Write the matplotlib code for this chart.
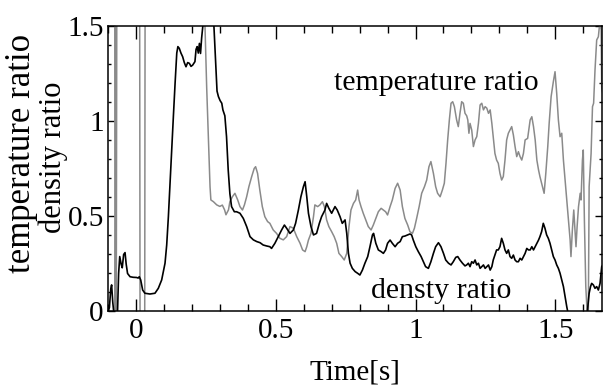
import matplotlib
matplotlib.use("Agg")
import matplotlib.pyplot as plt
from matplotlib.ticker import MultipleLocator

plt.rcParams['font.family'] = ['Liberation Serif', 'DejaVu Serif']

# density ratio (black)
t_dens = [-0.100, -0.095, -0.090, -0.087, -0.083, -0.079, -0.066, -0.062, -0.058, -0.053,
          -0.049, -0.044, -0.039, -0.035, -0.030, -0.021, -0.010, 0.002, 0.008, 0.012,
          0.017, 0.024, 0.032, 0.050, 0.068, 0.080, 0.092, 0.104, 0.110, 0.116,
          0.122, 0.128, 0.134, 0.140, 0.146, 0.150, 0.155, 0.161, 0.167, 0.173,
          0.179, 0.185, 0.191, 0.197, 0.203, 0.211, 0.215, 0.219, 0.223, 0.227,
          0.231, 0.235, 0.239, 0.245, 0.270, 0.279, 0.286, 0.290, 0.295, 0.301,
          0.307, 0.311, 0.318, 0.324, 0.330, 0.336, 0.342, 0.352, 0.360, 0.372,
          0.384, 0.396, 0.408, 0.420, 0.432, 0.444, 0.455, 0.467, 0.479, 0.485,
          0.497, 0.509, 0.521, 0.531, 0.539, 0.551, 0.563, 0.571, 0.581, 0.590,
          0.599, 0.605, 0.611, 0.617, 0.626, 0.635, 0.646, 0.656, 0.664, 0.676,
          0.682, 0.690, 0.700, 0.712, 0.720, 0.730, 0.738, 0.748, 0.754, 0.760,
          0.766, 0.774, 0.784, 0.793, 0.801, 0.810, 0.819, 0.829, 0.837, 0.846,
          0.850, 0.858, 0.867, 0.877, 0.885, 0.893, 0.900, 0.909, 0.917, 0.927,
          0.936, 0.945, 0.953, 0.962, 0.972, 0.980, 0.986, 0.992, 1.001, 1.010,
          1.020, 1.028, 1.036, 1.046, 1.055, 1.064, 1.072, 1.082, 1.091, 1.100,
          1.108, 1.118, 1.127, 1.135, 1.144, 1.151, 1.159, 1.168, 1.177, 1.183,
          1.189, 1.195, 1.201, 1.207, 1.213, 1.219, 1.225, 1.231, 1.237, 1.243,
          1.249, 1.255, 1.261, 1.267, 1.273, 1.278, 1.284, 1.290, 1.296, 1.302,
          1.308, 1.314, 1.320, 1.326, 1.332, 1.338, 1.344, 1.350, 1.356, 1.362,
          1.368, 1.374, 1.380, 1.386, 1.392, 1.398, 1.404, 1.410, 1.416, 1.422,
          1.428, 1.434, 1.440, 1.445, 1.451, 1.457, 1.463, 1.469, 1.475, 1.481,
          1.487, 1.493, 1.499, 1.505, 1.511, 1.517, 1.523, 1.529, 1.535, 1.541,
          1.547, 1.580, 1.614, 1.621, 1.626, 1.630, 1.636, 1.642, 1.648, 1.654,
          1.660, 1.666, 1.680]
dens = [0.00, 0.02, 0.12, 0.14, 0.05, -0.01, -0.01, 0.20, 0.289, 0.25,
        0.23, 0.30, 0.31, 0.25, 0.20, 0.183, 0.180, 0.179, 0.176, 0.183,
        0.166, 0.113, 0.096, 0.092, 0.096, 0.122, 0.166, 0.254, 0.350, 0.499,
        0.680, 0.850, 1.030, 1.201, 1.360, 1.394, 1.385, 1.360, 1.341, 1.310,
        1.288, 1.310, 1.306, 1.290, 1.297, 1.315, 1.380, 1.394, 1.360, 1.411,
        1.358, 1.440, 1.499, 1.600, 1.600, 1.499, 1.288, 1.160, 1.131, 1.110,
        1.096, 1.061, 1.030, 0.920, 0.745, 0.620, 0.552, 0.525, 0.525, 0.517,
        0.490, 0.447, 0.394, 0.377, 0.368, 0.362, 0.350, 0.345, 0.341, 0.332,
        0.359, 0.394, 0.429, 0.455, 0.438, 0.411, 0.429, 0.464, 0.534, 0.604,
        0.657, 0.683, 0.604, 0.517, 0.447, 0.403, 0.411, 0.464, 0.499, 0.534,
        0.569, 0.543, 0.517, 0.552, 0.534, 0.499, 0.464, 0.482, 0.411, 0.306,
        0.254, 0.227, 0.210, 0.201, 0.192, 0.218, 0.254, 0.289, 0.341, 0.403,
        0.411, 0.359, 0.324, 0.315, 0.306, 0.324, 0.359, 0.376, 0.359, 0.341,
        0.359, 0.368, 0.394, 0.397, 0.403, 0.408, 0.403, 0.376, 0.341, 0.315,
        0.289, 0.262, 0.236, 0.227, 0.262, 0.306, 0.341, 0.362, 0.341, 0.306,
        0.271, 0.254, 0.245, 0.262, 0.285, 0.289, 0.271, 0.254, 0.240, 0.245,
        0.254, 0.236, 0.262, 0.254, 0.271, 0.245, 0.254, 0.227, 0.236, 0.245,
        0.227, 0.236, 0.245, 0.218, 0.236, 0.271, 0.297, 0.324, 0.324, 0.341,
        0.385, 0.359, 0.324, 0.306, 0.324, 0.289, 0.280, 0.297, 0.271, 0.262,
        0.262, 0.280, 0.271, 0.289, 0.306, 0.332, 0.324, 0.324, 0.341, 0.324,
        0.341, 0.359, 0.376, 0.394, 0.420, 0.464, 0.438, 0.403, 0.385, 0.359,
        0.324, 0.289, 0.271, 0.245, 0.227, 0.201, 0.166, 0.131, 0.078, 0.025,
        -0.020, -0.100, -0.010, 0.096, 0.131, 0.148, 0.140, 0.122, 0.131, 0.113,
        0.148, 0.236, 0.270]

# temperature ratio (gray); values beyond the axes are off-scale excursions
t_temp = [-0.100, -0.076, -0.074, -0.071, -0.068, -0.065, 0.013, 0.015, 0.031, 0.033,
          0.240, 0.247, 0.253, 0.259, 0.265, 0.268, 0.277, 0.289, 0.300, 0.309,
          0.317, 0.322, 0.331, 0.336, 0.345, 0.354, 0.364, 0.372, 0.381, 0.388,
          0.396, 0.404, 0.414, 0.423, 0.428, 0.435, 0.443, 0.452, 0.461, 0.471,
          0.479, 0.491, 0.503, 0.515, 0.527, 0.539, 0.551, 0.563, 0.575, 0.587,
          0.596, 0.605, 0.611, 0.617, 0.626, 0.635, 0.640, 0.650, 0.658, 0.667,
          0.674, 0.682, 0.690, 0.700, 0.709, 0.718, 0.726, 0.736, 0.745, 0.754,
          0.762, 0.769, 0.778, 0.786, 0.793, 0.798, 0.805, 0.813, 0.822, 0.831,
          0.841, 0.849, 0.858, 0.867, 0.877, 0.885, 0.893, 0.900, 0.909, 0.917,
          0.927, 0.936, 0.945, 0.953, 0.962, 0.972, 0.980, 0.989, 0.996, 1.004,
          1.013, 1.022, 1.032, 1.040, 1.048, 1.055, 1.064, 1.072, 1.079, 1.088,
          1.096, 1.103, 1.109, 1.115, 1.121, 1.127, 1.133, 1.139, 1.147, 1.153,
          1.159, 1.165, 1.171, 1.177, 1.183, 1.187, 1.191, 1.195, 1.201, 1.207,
          1.213, 1.219, 1.225, 1.231, 1.237, 1.243, 1.249, 1.255, 1.261, 1.267,
          1.273, 1.278, 1.284, 1.290, 1.296, 1.302, 1.308, 1.314, 1.320, 1.326,
          1.332, 1.338, 1.344, 1.350, 1.356, 1.362, 1.368, 1.374, 1.380, 1.386,
          1.392, 1.401, 1.410, 1.416, 1.422, 1.428, 1.434, 1.440, 1.445, 1.454,
          1.460, 1.466, 1.473, 1.478, 1.485, 1.493, 1.499, 1.505, 1.511, 1.517,
          1.523, 1.529, 1.535, 1.541, 1.547, 1.553, 1.556, 1.561, 1.566, 1.571,
          1.574, 1.578, 1.583, 1.589, 1.592, 1.597, 1.600, 1.604, 1.609, 1.614,
          1.618, 1.621, 1.628, 1.633, 1.637, 1.642, 1.648, 1.654, 1.659, 1.664,
          1.666, 1.680]
temp = [-0.30, -0.30, 2.00, -0.50, 2.00, 2.00, 2.00, -0.50, -0.50, 2.00,
        2.00, 1.50, 1.180, 0.920, 0.657, 0.587, 0.578, 0.561, 0.553, 0.560,
        0.535, 0.509, 0.535, 0.578, 0.604, 0.622, 0.587, 0.552, 0.534, 0.561,
        0.604, 0.657, 0.710, 0.753, 0.762, 0.727, 0.640, 0.552, 0.499, 0.473,
        0.464, 0.429, 0.411, 0.385, 0.377, 0.394, 0.447, 0.438, 0.394, 0.359,
        0.324, 0.315, 0.341, 0.376, 0.411, 0.499, 0.561, 0.552, 0.561, 0.578,
        0.552, 0.482, 0.447, 0.420, 0.394, 0.359, 0.306, 0.289, 0.271, 0.306,
        0.447, 0.534, 0.569, 0.587, 0.639, 0.587, 0.552, 0.517, 0.482, 0.447,
        0.429, 0.455, 0.490, 0.525, 0.543, 0.534, 0.525, 0.508, 0.552, 0.587,
        0.648, 0.675, 0.639, 0.552, 0.490, 0.455, 0.420, 0.411, 0.438, 0.490,
        0.552, 0.622, 0.657, 0.692, 0.762, 0.789, 0.727, 0.657, 0.622, 0.604,
        0.639, 0.675, 0.780, 0.903, 1.008, 1.096, 1.104, 1.078, 1.008, 0.973,
        1.043, 1.104, 1.096, 1.043, 1.030, 1.008, 0.938, 0.990, 0.955, 0.868,
        0.903, 0.920, 0.990, 1.087, 1.096, 1.061, 1.078, 1.070, 1.043, 1.061,
        0.990, 0.920, 0.832, 0.797, 0.780, 0.727, 0.692, 0.710, 0.797, 0.903,
        0.938, 0.955, 0.973, 0.929, 0.868, 0.815, 0.841, 0.815, 0.797, 0.832,
        0.903, 0.911, 1.008, 1.025, 0.973, 0.903, 0.797, 0.745, 0.710, 0.657,
        0.622, 0.727, 0.868, 0.990, 1.131, 1.210, 1.262, 1.148, 1.008, 0.920,
        0.938, 0.797, 0.692, 0.587, 0.482, 0.376, 0.289, 0.429, 0.534, 0.411,
        0.341, 0.447, 0.552, 0.622, 0.587, 0.797, 0.850, 0.482, 0.131, -0.010,
        -0.030, 0.657, 0.832, 1.078, 1.096, 1.271, 1.429, 1.446, 1.520, 1.482,
        1.180, 1.050]

fig = plt.figure(figsize=(6.06, 3.90), dpi=100)
ax = fig.add_axes([0.1782, 0.2013, 0.8152, 0.7308])

ax.plot(t_temp, temp, color='#8a8a8a', lw=1.1)
ax.plot(t_dens, dens, color='black', lw=1.2)

ax.set_xlim(-0.1, 1.667)
ax.set_ylim(0, 1.5)
ax.xaxis.set_major_locator(MultipleLocator(0.5))
ax.xaxis.set_minor_locator(MultipleLocator(0.1))
ax.yaxis.set_major_locator(MultipleLocator(0.5))
ax.yaxis.set_minor_locator(MultipleLocator(0.1))
ax.xaxis.set_major_formatter(plt.FuncFormatter(lambda v, p: f"{v:g}"))
ax.yaxis.set_major_formatter(plt.FuncFormatter(lambda v, p: f"{v:g}"))

ax.tick_params(axis='both', which='both', direction='in', top=True, right=True,
               labelsize=21, width=1.0)
ax.tick_params(axis='x', which='major', length=9, pad=5)
ax.tick_params(axis='x', which='minor', length=5)
ax.tick_params(axis='y', which='major', length=5, pad=3)
ax.tick_params(axis='y', which='minor', length=2.5)
for s in ax.spines.values():
    s.set_linewidth(1.1)

ax.set_xlabel('Time[s]', fontsize=21, labelpad=11)
fig.text(21.7 / 606, 1 - 153 / 390, 'temperature ratio', rotation=90,
         ha='center', va='center', fontsize=25)
fig.text(53 / 606, 1 - 157.5 / 390, 'density ratio', rotation=90,
         ha='center', va='center', fontsize=22)

ax.text(1.073, 1.166, 'temperature ratio', ha='center', va='baseline', fontsize=21.5)
ax.text(1.093, 0.071, 'densty ratio', ha='center', va='baseline', fontsize=21.5)

fig.savefig('out.png', dpi=100)
